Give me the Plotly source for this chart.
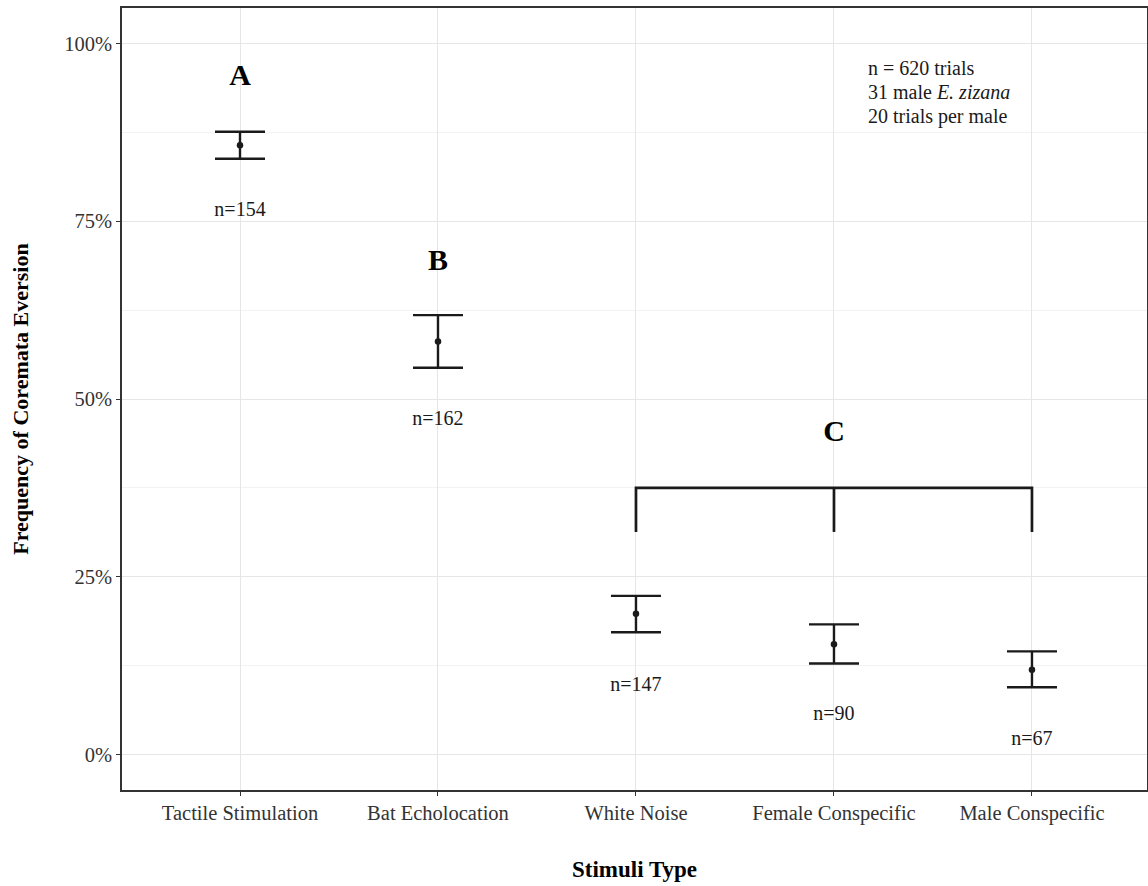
import plotly.graph_objects as go

# Stimulus categories and eversion frequency (proportion of trials)
stimuli = ["Tactile Stimulation", "Bat Echolocation", "White Noise",
           "Female Conspecific", "Male Conspecific"]
freq_mean = [0.857, 0.581, 0.198, 0.155, 0.119]
freq_upper = [0.876, 0.618, 0.223, 0.183, 0.145]
freq_lower = [0.838, 0.544, 0.172, 0.128, 0.0945]

# Sample-size labels and their heights
n_labels = ["n=154", "n=162", "n=147", "n=90", "n=67"]
n_label_y = [0.765, 0.470, 0.097, 0.055, 0.020]

# Significance groups
group_letters = ["A", "B", "C"]
group_x = ["Tactile Stimulation", "Bat Echolocation", "Female Conspecific"]
group_y = [0.952, 0.692, 0.452]

# Bracket joining group C
bracket_members = ["White Noise", "Female Conspecific", "Male Conspecific"]
bracket_top = 0.375
bracket_foot = 0.313

y_ticks = [0, 0.25, 0.5, 0.75, 1.0]
y_tick_text = ["0%", "25%", "50%", "75%", "100%"]

FONT = "Liberation Serif, Times New Roman, serif"
INK = "#1a1a1a"

fig = go.Figure()

# Bracket line: outer frame then middle leg
bx = [bracket_members[0], bracket_members[0], bracket_members[2], bracket_members[2], None,
      bracket_members[1], bracket_members[1]]
by = [bracket_foot, bracket_top, bracket_top, bracket_foot, None, bracket_top, bracket_foot]
fig.add_trace(go.Scatter(x=bx, y=by, mode="lines",
                         line=dict(color=INK, width=2.7), hoverinfo="skip",
                         showlegend=False))

# Means with error bars
fig.add_trace(go.Scatter(
    x=stimuli, y=freq_mean, mode="markers",
    marker=dict(color=INK, size=6.5),
    error_y=dict(type="data", symmetric=False,
                 array=[u - m for u, m in zip(freq_upper, freq_mean)],
                 arrayminus=[m - l for m, l in zip(freq_mean, freq_lower)],
                 color=INK, thickness=2.4, width=25),
    showlegend=False))

# n labels
fig.add_trace(go.Scatter(x=stimuli, y=n_label_y, mode="text", text=n_labels,
                         textfont=dict(family=FONT, size=20, color=INK),
                         textposition="middle center", showlegend=False,
                         hoverinfo="skip"))

# Group letters
fig.add_trace(go.Scatter(x=group_x, y=group_y, mode="text",
                         text=[f"<b>{t}</b>" for t in group_letters],
                         textfont=dict(family=FONT, size=30, color="black"),
                         textposition="middle center", showlegend=False,
                         hoverinfo="skip"))

# Study summary note
note_lines = ["n = 620 trials", "31 male <i>E. zizana</i>", "20 trials per male"]
for i, line in enumerate(note_lines):
    fig.add_annotation(x=3.16, y=0.965 - i * 0.0338, xref="x", yref="y",
                       text=line, showarrow=False, xanchor="left",
                       yanchor="middle", align="left",
                       font=dict(family=FONT, size=20, color=INK))

fig.update_layout(
    width=1148, height=886,
    margin=dict(l=122, r=1, t=8, b=96, autoexpand=False),
    paper_bgcolor="white", plot_bgcolor="white",
    font=dict(family=FONT, size=20, color="#333333"),
    showlegend=False,
)

fig.update_xaxes(
    type="category", categoryorder="array", categoryarray=stimuli,
    range=[-0.596, 4.581],
    showgrid=True, gridcolor="#e6e6e6", gridwidth=1.4,
    showline=True, mirror=True, linecolor="#333333", linewidth=1.5,
    ticks="outside", ticklen=4, tickcolor="#333333", tickwidth=1.2,
    tickfont=dict(family=FONT, size=20.5, color="#333333"),
    title=dict(text="<b>Stimuli Type</b>", standoff=37,
               font=dict(family=FONT, size=23, color="black")),
    automargin=False,
    zeroline=False,
)

fig.update_yaxes(
    range=[-0.05, 1.05],
    tickvals=y_ticks, ticktext=y_tick_text,
    showgrid=True, gridcolor="#e6e6e6", gridwidth=1.4,
    minor=dict(tickvals=[0.125, 0.375, 0.625, 0.875], showgrid=True,
               gridcolor="#f2f2f2", gridwidth=0.8, ticks=""),
    showline=True, mirror=True, linecolor="#333333", linewidth=1.5,
    ticks="outside", ticklen=4, tickcolor="#333333", tickwidth=1.2,
    tickfont=dict(family=FONT, size=20.5, color="#333333"),
    title=dict(text="<b>Frequency of Coremata Eversion</b>", standoff=30,
               font=dict(family=FONT, size=22, color="black")),
    automargin=False,
    zeroline=False,
)

fig.write_html("out.html")
